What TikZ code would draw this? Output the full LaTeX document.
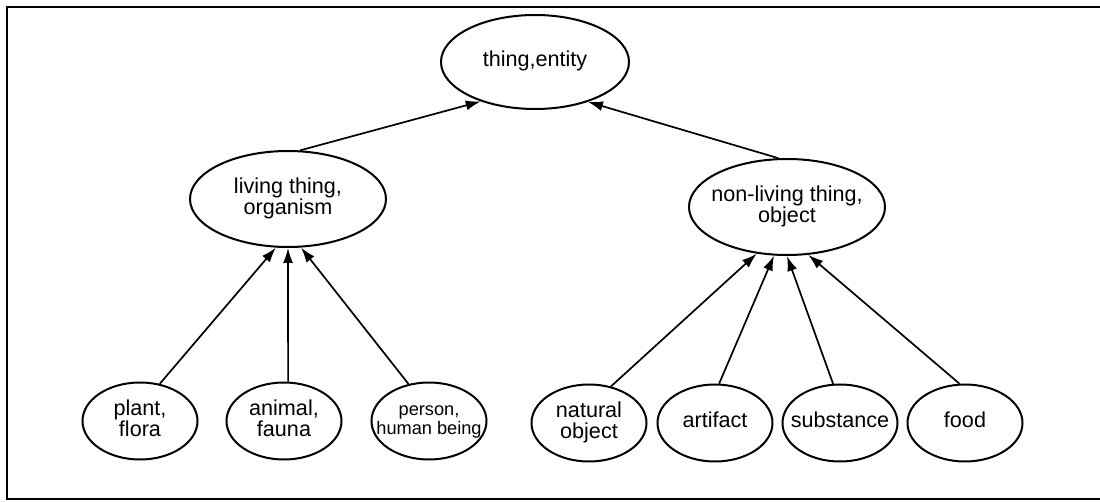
\documentclass[tikz,border=0pt]{standalone}
\usepackage{fontspec}
\setmainfont{Liberation Sans}
\usetikzlibrary{shapes.geometric,arrows.meta}

% zero-width centred label so the ellipse keeps its set size
\newcommand{\lbl}[1]{\makebox[0pt][c]{\begin{tabular}{@{}c@{}}#1\end{tabular}}}

\begin{document}
\begin{tikzpicture}[
  x=0.5pt, y=-0.5pt,
  concept/.style={draw, ellipse, line width=1pt, inner sep=0pt,
    font=\fontsize{10.8}{9.8}\selectfont},
  topnode/.style={concept, minimum width=94pt, minimum height=47pt},
  midnode/.style={concept, minimum width=98pt, minimum height=48pt},
  leafnode/.style={concept, minimum width=57.5pt, minimum height=38.5pt},
  isa/.style={-{Latex[length=7.5pt,width=5pt]}, line width=0.85pt},
  frame/.style={line width=1.2pt}
]
\useasboundingbox (0,0) rectangle (1100,502);

% outer frame (open to the right)
\draw[frame] (1100,7) -- (7,7) -- (7,499) -- (1100,499);

% top concept
\node[topnode] (thing) at (535,62) {\lbl{thing,entity}};

% second level
\node[midnode] (living) at (288,199) {\lbl{living thing,\\organism}};
\node[midnode] (nonliving) at (787,207) {\lbl{non-living thing,\\object}};

% leaves
\node[leafnode] (plant) at (140,421) {\lbl{plant,\\flora}};
\node[leafnode] (animal) at (284,421) {\lbl{animal,\\fauna}};
\node[leafnode, font=\fontsize{9.1}{9.8}\selectfont] (person) at (429,421) {\lbl{person,\\human being}};
\node[leafnode] (natural) at (589,423) {\lbl{natural\\object}};
\node[leafnode] (artifact) at (715,423) {\lbl{artifact}};
\node[leafnode] (substance) at (840,423) {\lbl{substance}};
\node[leafnode] (food) at (965,423) {\lbl{food}};

% is-a links
\draw[isa] (living.76) -- (thing.-144);
\draw[isa] (nonliving.100) -- (thing.-37);

\draw[isa] (plant.62) -- (living.-104);
\draw[isa] (animal.84) -- (living.-90);
\draw[isa] (person.119) -- (living.-75);

\draw[isa] (natural.59) -- (nonliving.-123);
\draw[isa] (artifact.84) -- (nonliving.-105);
\draw[isa] (substance.100) -- (nonliving.-90);
\draw[isa] (food.98) -- (nonliving.-66);
\end{tikzpicture}
\end{document}
